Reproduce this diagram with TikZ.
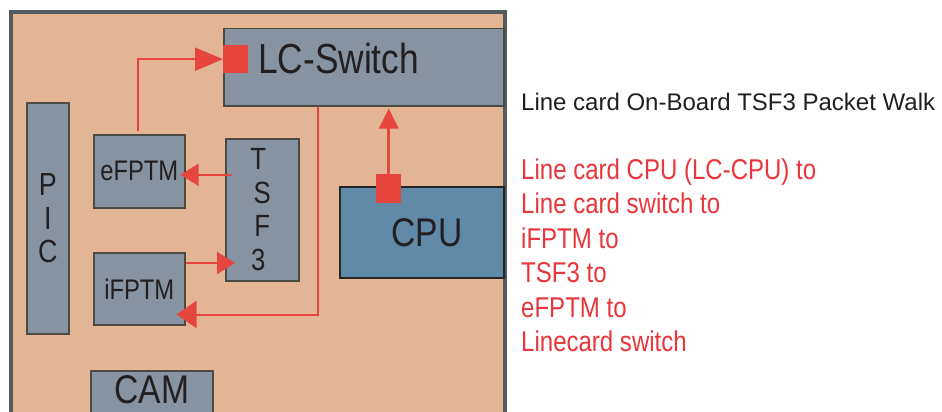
\documentclass[tikz,border=0pt]{standalone}
\usepackage{fontspec}
\setmainfont{Liberation Sans}
\newfontfamily\condsf[FakeStretch=0.84]{Liberation Sans}
\usetikzlibrary{arrows.meta,positioning,calc}
\definecolor{board}{HTML}{E3B594}
\definecolor{boardedge}{HTML}{525C5E}
\definecolor{chip}{HTML}{8793A0}
\definecolor{chipedge}{HTML}{4B4A43}
\definecolor{cpublue}{HTML}{608AA8}
\definecolor{pathred}{HTML}{E6463D}
\definecolor{walkred}{HTML}{E8363C}
\definecolor{ink}{HTML}{231F20}

\begin{document}
\begin{tikzpicture}[x=1pt,y=-1pt,
  chipbox/.style={draw=chipedge,fill=chip,line width=1.5pt,inner sep=0pt,anchor=north west,align=center,text=ink,
    font=\condsf\fontsize{28.3}{33.5}\selectfont},
  port/.style={fill=pathred,inner sep=0pt,anchor=north west,minimum width=25pt},
  wire/.style={draw=pathred,line width=2pt,-{Triangle[length=18pt,width=22pt]}},
  walk/.style={anchor=base west,inner sep=0pt,text=walkred,font=\condsf\fontsize{28.6}{34}\selectfont}]
\path[use as bounding box,clip] (0,0) rectangle (942,412);
\fill[white] (0,0) rectangle (942,412);
\draw[boardedge,fill=board,line width=4pt] (10.5,12) rectangle (505,440);
\node[chipbox,minimum width=280pt,minimum height=77pt] (lcsw) at (223,28) {};
\node[anchor=base west,inner sep=0pt,text=ink,font=\condsf\fontsize{42}{46}\selectfont] (lcswlab) at (258,74) {LC-Switch};
\node[port,minimum height=28pt] (swport) at (223,45) {};
\node[chipbox,minimum width=42pt,minimum height=231pt,font=\condsf\fontsize{32}{33.5}\selectfont] (pic) at (26,102) {P\\I\\C};
\node[chipbox,minimum width=91pt,minimum height=73pt] (efptm) at (93,134) {eFPTM};
\node[chipbox,minimum width=91pt,minimum height=72pt,below=43.5pt of efptm.south west,anchor=north west] (ifptm) {iFPTM};
\node[chipbox,minimum width=73pt,minimum height=142pt,right=39.5pt of efptm.north east,anchor=north west,yshift=-4pt,
  font=\condsf\fontsize{30.7}{33.5}\selectfont] (tsf) {T\hspace*{8pt}\\S\hspace*{8pt}\\F\hspace*{8pt}\\3\hspace*{8pt}};
\node[chipbox,fill=cpublue,draw=black!85,line width=2pt,minimum width=164pt,minimum height=91pt,
  font=\condsf\fontsize{40}{44}\selectfont] (cpu) at (339,186) {\hspace*{10pt}CPU};
\node[port,minimum height=29pt] (cpuport) at (376,174) {};
\node[chipbox,minimum width=122pt,minimum height=60pt,text depth=22pt,
  font=\condsf\fontsize{40}{44}\selectfont] (cam) at (90,370) {CAM};
% packet walk
\coordinate (eport) at ([yshift=-3.5pt]efptm.east);
\coordinate (iport) at ([yshift=-11pt]ifptm.north east);
\draw[wire,-{Triangle[length=20pt,width=19pt]},line width=3pt,shorten >=2pt] (cpuport.north) -- (lcsw.south -| cpuport.north);
\draw[wire,-{Triangle[length=20pt,width=27pt]},shorten >=-9pt] ([xshift=95pt]lcsw.south west) |- ([yshift=11pt]ifptm.south east);
\draw[wire,shorten >=-10pt] (iport) -- (tsf.west |- iport);
\draw[wire,shorten <=-7pt,shorten >=-5pt] (tsf.west |- eport) -- (eport);
\draw[wire,-{Triangle[length=28pt,width=23pt]},shorten <=3pt] ([xshift=-1.5pt]efptm.north) |- (swport.west);
% legend
\node[anchor=base west,inner sep=0pt,text=ink,font=\fontsize{24}{28}\selectfont] (title) at (521,110) {Line card On-Board TSF3 Packet Walk};
\foreach \txt [count=\i from 0] in {Line card CPU (LC-CPU) to,Line card switch to,iFPTM to,TSF3 to,eFPTM to,Linecard switch}
  \node[walk] (walk\i) at (521,179.3+34.5*\i) {\txt};
\end{tikzpicture}
\end{document}
